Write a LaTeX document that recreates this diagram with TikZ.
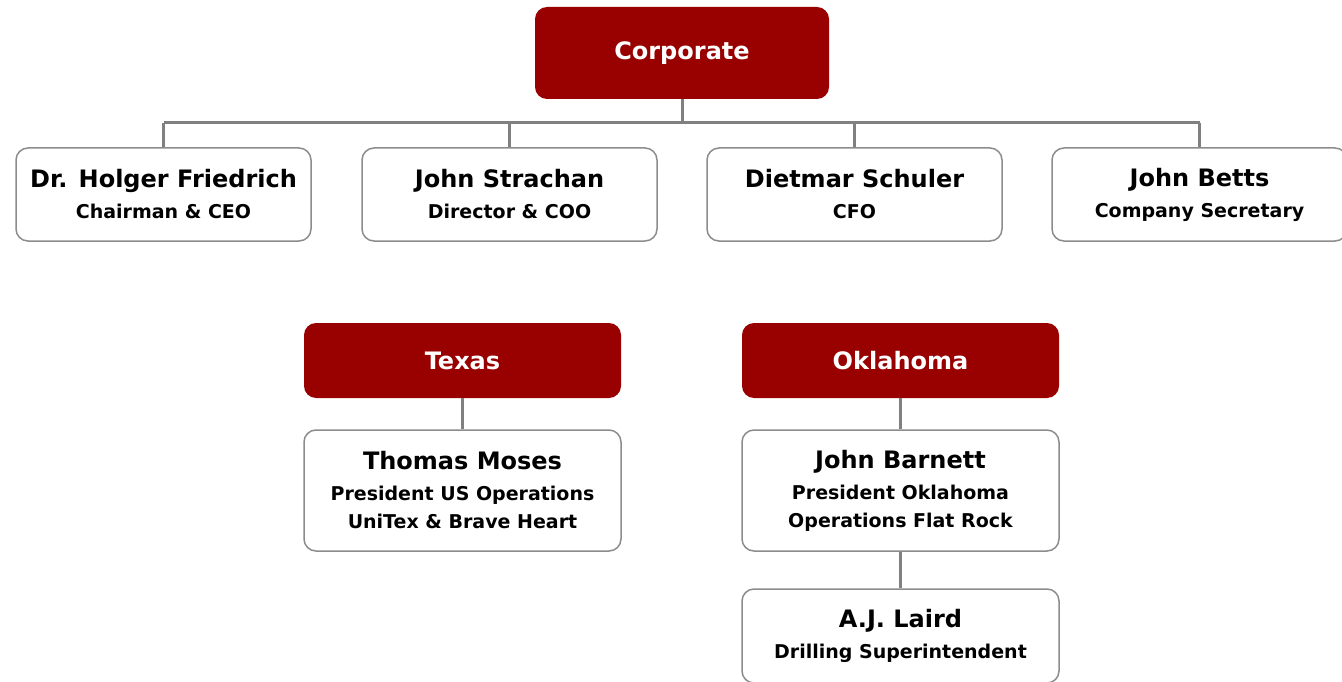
\documentclass[tikz,border=0pt]{standalone}
\usepackage{fontspec}
\setmainfont{DejaVu Sans}
\usetikzlibrary{positioning,calc}
\definecolor{orgred}{RGB}{153,0,0}
\definecolor{orgline}{RGB}{128,128,128}
\definecolor{orgedge}{RGB}{140,140,140}
\newcommand{\pname}[1]{{\fontsize{24}{28}\selectfont #1}}

\begin{document}
\begin{tikzpicture}[x=1pt, y=-1pt,
      unit/.style={rounded corners=12pt, fill=orgred, text=white, minimum width=317pt, minimum height=75pt, font=\fontsize{24}{28}\selectfont\bfseries},
      person/.style={rounded corners=12pt, draw=orgedge, line width=1.5pt, fill=white, minimum width=295pt, minimum height=93pt, align=center, inner sep=2pt, font=\fontsize{19}{28}\selectfont\bfseries},
      link/.style={draw=orgline, line width=3pt}
    ]
      \useasboundingbox (0,0) rectangle (1342,682);

      % Corporate
      \node[unit, minimum width=294pt, minimum height=92pt] (corp) at (682,53) {Corporate};
      \coordinate (bus) at (682,123);

      \node[person] (ceo) at (163.5,194.5) {\pname{Dr. Holger Friedrich}\\[3pt]Chairman \& CEO};
      \node[person] (coo) at (509.5,194.5) {\pname{John Strachan}\\[3pt]Director \& COO};
      \node[person] (cfo) at (854.5,194.5) {\pname{Dietmar Schuler}\\[3pt]CFO};
      \node[person] (sec) at (1199.5,194.5) {\pname{John Betts}\\[3pt]Company Secretary};

      \draw[link] (corp.south) -- (bus);
      \draw[link] (ceo.north |- bus) -- (sec.north |- bus);
      \foreach \n in {ceo,coo,cfo,sec}
        \draw[link] (\n.north |- bus) -- (\n.north);

      % Texas
      \node[unit] (texas) at (462.5,360.5) {Texas};
      \node[person, minimum width=317pt, minimum height=121pt] (moses) at (462.5,490.5)
        {\pname{Thomas Moses}\\[3pt]President US Operations\\UniTex \& Brave Heart};
      \draw[link] (texas.south) -- (moses.north);

      % Oklahoma
      \node[unit] (okla) at (900.5,360.5) {Oklahoma};
      \node[person, minimum width=317pt, minimum height=121pt] (barnett) at (900.5,490.5)
        {\pname{John Barnett}\\[3pt]President Oklahoma\\Operations Flat Rock};
      \node[person, minimum width=317pt, minimum height=94pt] (laird) at (900.5,636)
        {\pname{A.J. Laird}\\[3pt]Drilling Superintendent};
      \draw[link] (okla.south) -- (barnett.north);
      \draw[link] (barnett.south) -- (laird.north);
    \end{tikzpicture}
\end{document}
